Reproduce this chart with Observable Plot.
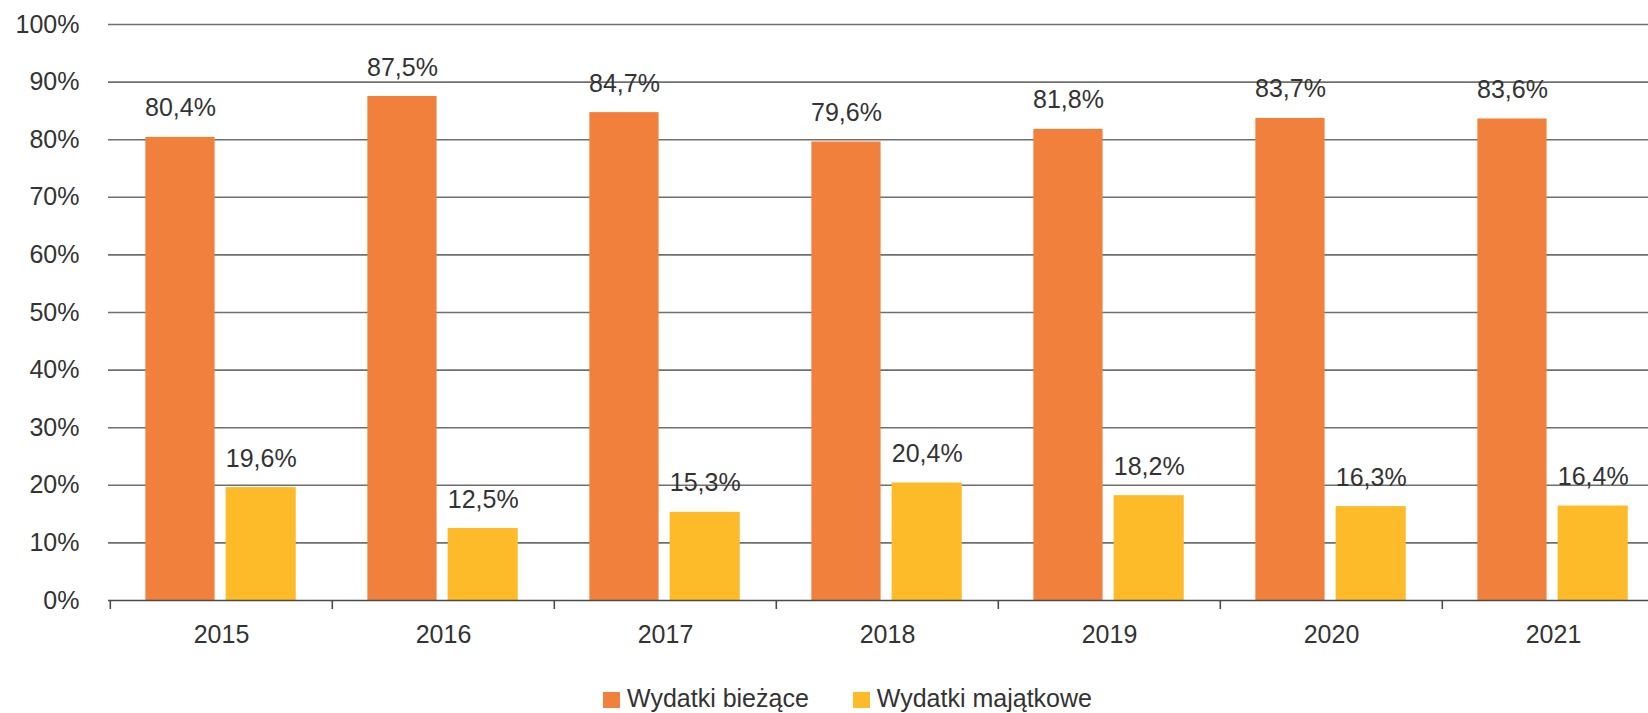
<!DOCTYPE html>
<html>
<head>
<meta charset="utf-8">
<script src="https://cdn.jsdelivr.net/npm/d3@7"></script>
<script src="https://cdn.jsdelivr.net/npm/@observablehq/plot@0.6"></script>
<style>
  html, body { margin: 0; padding: 0; background: #fff; overflow: hidden; }
  body { width: 1648px; height: 713px; position: relative; font-family: "Liberation Sans", Arial, sans-serif; }
  #chart svg { overflow: hidden; display: block; }
  #legend { position: absolute; left: 603px; top: 684px; display: flex; align-items: center; font-size: 25px; color: #333; line-height: 28px; }
  #legend .sw { width: 17px; height: 16px; display: inline-block; margin-right: 7px; margin-top: 3px; }
  #legend .item { display: flex; align-items: center; }
  #legend .item + .item { margin-left: 44px; }
</style>
</head>
<body>
<div id="chart"></div>
<div id="legend"></div>
<script>
const years = ["2015", "2016", "2017", "2018", "2019", "2020", "2021"];
const biezace = [80.4, 87.5, 84.7, 79.6, 81.8, 83.7, 83.6];
const majatkowe = [19.6, 12.5, 15.3, 20.4, 18.2, 16.3, 16.4];
const seriesNames = ["Wydatki bieżące", "Wydatki majątkowe"];
const seriesColors = ["#f0803c", "#fdbb2a"];
const yTicks = [0, 10, 20, 30, 40, 50, 60, 70, 80, 90, 100];

const W = 1648, H = 660;
const x0 = 108.3, x1 = 1665;
const bw = (x1 - x0) / years.length;
// bar geometry within each band (fractions of band width)
const oL = 0.159 * bw, oR = bw - 0.472 * bw;
const yL = 0.520 * bw, yR = bw - 0.837 * bw;
const oC = (0.159 + 0.472) / 2 * bw - bw / 2;
const yC = (0.520 + 0.837) / 2 * bw - bw / 2;

const rowsB = years.map((yr, i) => ({year: yr, v: biezace[i]}));
const rowsM = years.map((yr, i) => ({year: yr, v: majatkowe[i]}));
const fmt = v => v.toFixed(1).replace(".", ",") + "%";
const font = "Liberation Sans, Arial, sans-serif";

const chart = Plot.plot({
  width: W,
  height: H,
  marginLeft: 108,
  marginRight: 0,
  marginTop: 24,
  marginBottom: 60,
  style: {fontFamily: font, fontSize: "25px", color: "#333", background: "#fff"},
  x: {type: "band", domain: years, range: [x0, x1], padding: 0},
  y: {domain: [0, 100], range: [600, 24]},
  marks: [
    Plot.ruleY(yTicks.filter(d => d > 0), {stroke: "#6f6f6f", strokeWidth: 1.6}),
    Plot.barY(rowsB, {x: "year", y: "v", fill: seriesColors[0], insetLeft: oL, insetRight: oR}),
    Plot.barY(rowsM, {x: "year", y: "v", fill: seriesColors[1], insetLeft: yL, insetRight: yR}),
    Plot.ruleY([0], {stroke: "#4a4a4a", strokeWidth: 1.6}),
    Plot.ruleX(years, {x: d => d, y1: 0, y2: 0, dx: -bw / 2, insetBottom: -9, stroke: "#4a4a4a", strokeWidth: 1.6}),
    Plot.text(rowsB, {x: "year", y: "v", text: d => fmt(d.v), dx: oC, dy: -21, lineAnchor: "bottom", fill: "#333", fontSize: 25}),
    Plot.text(rowsM, {x: "year", y: "v", text: d => fmt(d.v), dx: yC, dy: -21, lineAnchor: "bottom", fill: "#333", fontSize: 25}),
    Plot.axisY(yTicks, {tickSize: 0, tickPadding: 29, tickFormat: d => d + "%", fill: "#333", fontSize: 25, label: null}),
    Plot.axisX({tickSize: 0, tickPadding: 25, fill: "#333", fontSize: 25, label: null})
  ]
});
document.getElementById("chart").appendChild(chart);

const legend = document.getElementById("legend");
seriesNames.forEach((name, i) => {
  const item = document.createElement("div");
  item.className = "item";
  const sw = document.createElement("span");
  sw.className = "sw";
  sw.style.background = seriesColors[i];
  const t = document.createElement("span");
  t.textContent = name;
  item.appendChild(sw);
  item.appendChild(t);
  legend.appendChild(item);
});
</script>
</body>
</html>
